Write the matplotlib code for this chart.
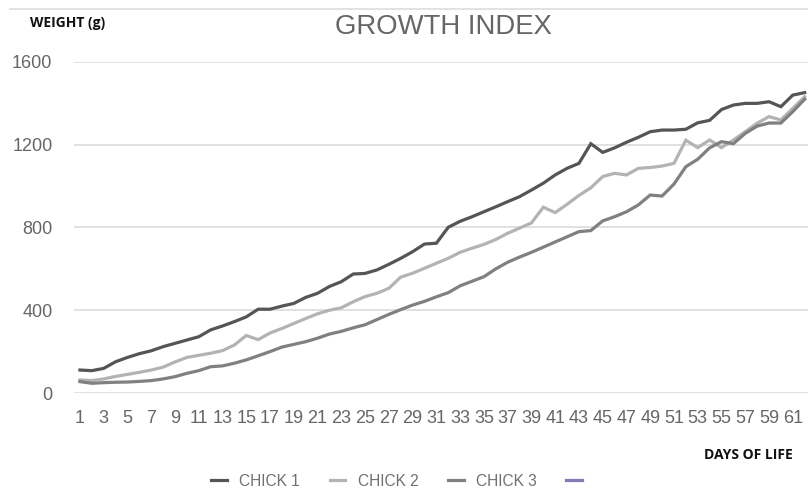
import numpy as np
import matplotlib.pyplot as plt
from matplotlib.lines import Line2D

plt.rcParams['font.family'] = ['Liberation Sans', 'DejaVu Sans']

days = np.arange(1, 63)

chick1 = [111, 108, 119, 151, 172, 190, 204, 224, 240, 256,
          272, 305, 324, 345, 368, 405, 405, 420, 433, 462,
          482, 515, 538, 575, 578, 595, 622, 651, 683, 720,
          724, 801, 830, 852, 876, 900, 925, 949, 981, 1014,
          1054, 1086, 1110, 1205, 1163, 1185, 1212, 1236, 1263, 1271,
          1271, 1275, 1306, 1318, 1370, 1392, 1400, 1400, 1408, 1384,
          1440, 1452]
chick2 = [63, 60, 68, 80, 90, 100, 111, 125, 150, 172,
          182, 192, 205, 232, 278, 258, 290, 312, 336, 360,
          383, 400, 412, 441, 466, 482, 506, 560, 579, 603,
          627, 651, 680, 700, 718, 742, 772, 797, 822, 898,
          872, 912, 955, 992, 1046, 1062, 1054, 1086, 1090, 1097,
          1110, 1222, 1186, 1223, 1186, 1223, 1263, 1304, 1336, 1320,
          1376, 1432]
chick3 = [55, 47, 50, 52, 53, 56, 60, 68, 79, 95,
          108, 127, 131, 144, 160, 180, 200, 222, 235, 248,
          265, 285, 298, 315, 330, 355, 380, 403, 425, 443,
          465, 485, 518, 540, 562, 600, 632, 657, 680, 705,
          730, 755, 780, 785, 832, 852, 876, 909, 957, 952,
          1010, 1094, 1130, 1185, 1215, 1205, 1255, 1290, 1305, 1305,
          1360, 1420]

series = [
    ("CHICK 1", chick1, "#555555"),
    ("CHICK 2", chick2, "#b3b3b3"),
    ("CHICK 3", chick3, "#808080"),
]

fig = plt.figure(figsize=(8.08, 4.90), dpi=100)
ax = fig.add_axes([74 / 808, 97 / 490, 736.6 / 808, 331 / 490])

for label, vals, color in series:
    ax.plot(days, vals, color=color, linewidth=2.3, label=label,
            solid_joinstyle='miter')
# empty fourth series shown only in the legend
ax.plot([], [], color="#8a78b8", linewidth=2.3, label=" ")

ax.set_xlim(0.5, 62.5)
ax.set_ylim(0, 1600)
ax.set_yticks([0, 400, 800, 1200, 1600])
ax.set_xticks(days[::2])
ax.tick_params(axis='both', length=0, labelsize=13, labelcolor="#666666")
ax.tick_params(axis='x', pad=12)
ax.tick_params(axis='y', pad=15.5)
ax.grid(axis='y', color="#dcdcdc", linewidth=1.2)
ax.set_axisbelow(True)
for s in ax.spines.values():
    s.set_visible(False)

fig.text(443 / 808, 1 - 27 / 490, "GROWTH INDEX", ha='center', va='center',
         fontsize=19.8, color="#666666")
fig.text(30 / 808, 1 - 23 / 490, "WEIGHT (g)", ha='left', va='center',
         fontsize=10, fontweight='bold', color="#111111",
         family=['Open Sans', 'DejaVu Sans'])
fig.text(793 / 808, 1 - 455 / 490, "DAYS OF LIFE", ha='right', va='center',
         fontsize=10, fontweight='bold', color="#111111",
         family=['Open Sans', 'DejaVu Sans'])

fig.add_artist(Line2D([10 / 808, 1], [1 - 9 / 490, 1 - 9 / 490],
                      color="#dddddd", linewidth=1.2))

leg = fig.legend(loc='center', bbox_to_anchor=(405 / 808, 1 - 481 / 490),
                 ncol=4, frameon=False, fontsize=11.2, handlelength=1.0,
                 columnspacing=1.9, handletextpad=0.8)
for t in leg.get_texts():
    t.set_color("#707070")

fig.savefig("out.png", dpi=100)
